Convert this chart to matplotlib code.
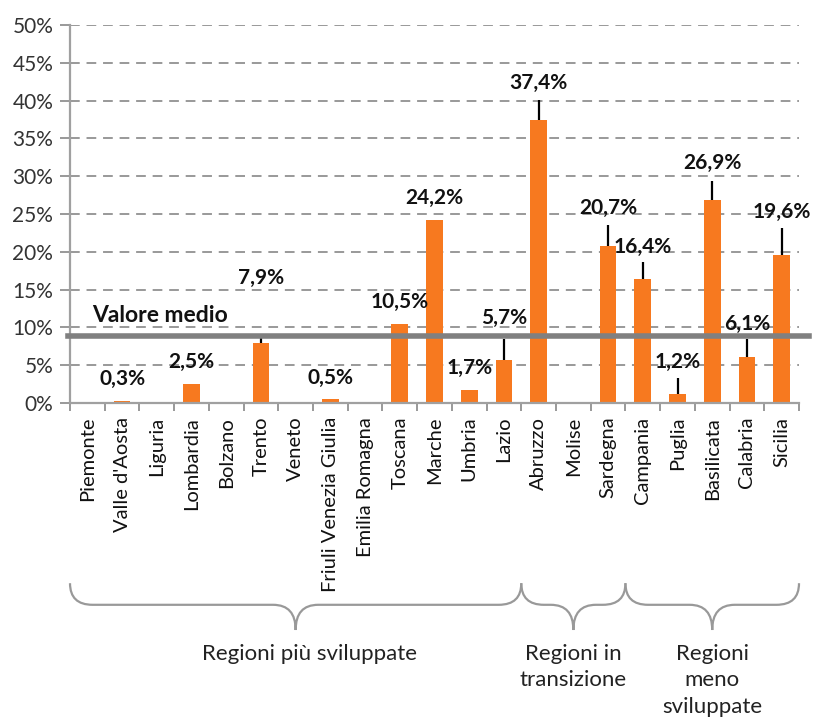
import matplotlib
matplotlib.use("Agg")
import matplotlib.pyplot as plt
import numpy as np
from matplotlib.path import Path
from matplotlib.patches import PathPatch
from matplotlib.transforms import blended_transform_factory

plt.rcParams['font.family'] = ['Lato', 'DejaVu Sans']

regioni = ['Piemonte', "Valle d'Aosta", 'Liguria', 'Lombardia', 'Bolzano', 'Trento',
           'Veneto', 'Friuli Venezia Giulia', 'Emilia Romagna', 'Toscana', 'Marche',
           'Umbria', 'Lazio', 'Abruzzo', 'Molise', 'Sardegna', 'Campania', 'Puglia',
           'Basilicata', 'Calabria', 'Sicilia']
valori = [0, 0.3, 0, 2.5, 0, 7.9, 0, 0.5, 0, 10.5, 24.2, 1.7, 5.7, 37.4, 0,
          20.7, 16.4, 1.2, 26.9, 6.1, 19.6]
errori = [0, 0, 0, 0, 0, 0.7, 0, 0, 0, 0, 0, 0, 2.8, 2.7, 0,
          2.8, 2.3, 2.1, 2.5, 2.3, 3.6]
# label heights as placed in the original chart
label_y = [None, 3.2, None, 5.4, None, 16.5, None, 3.3, None, 13.4, 27.1,
           4.6, 11.2, 42.3, None, 25.8, 20.6, 5.4, 31.7, 10.4, 25.3]
valore_medio = 8.9

gruppi = ['Regioni più sviluppate', 'Regioni in\ntransizione', 'Regioni\nmeno\nsviluppate']
gruppi_range = [(-0.5, 12.5), (12.5, 15.5), (15.5, 20.5)]

fig = plt.figure(figsize=(8.13, 7.2), dpi=100)
ax = fig.add_axes([0.0861, 0.4403, 0.8967, 0.525])

x = np.arange(len(regioni))
ax.bar(x, valori, width=0.48, color='#F7791F', zorder=2)
ax.errorbar(x, valori, yerr=[np.zeros(len(x)), errori], fmt='none',
            ecolor='black', elinewidth=1.6, capsize=0, zorder=3)

for i, v in enumerate(valori):
    if label_y[i] is not None:
        ax.text(i, label_y[i], ('%.1f%%' % v).replace('.', ','), ha='center',
                va='center', fontsize=15, fontweight='bold', color='#111111', zorder=5)

ax.axhline(valore_medio, xmin=-0.003, xmax=1.014, color='#808080', lw=4,
           clip_on=False, zorder=4)
ax.text(0.13, 11.6, 'Valore medio', fontsize=16.5, fontweight='bold',
        va='center', ha='left', color='#111111')

ax.set_xlim(-0.5, len(regioni) - 0.5)
ax.set_ylim(0, 50)
ax.set_yticks(np.arange(0, 51, 5))
ax.set_yticklabels(['%d%%' % t for t in range(0, 51, 5)], fontsize=15, color='#333333')
ax.yaxis.grid(True, linestyle=(0, (5, 3.5)), color='#999999', lw=1.4, zorder=0)
ax.set_axisbelow(True)

ax.set_xticks(x)
ax.set_xticklabels(regioni, rotation=90, fontsize=14.5, color='#111111')
ax.set_xticks(np.arange(-0.5, len(regioni)), minor=True)
ax.tick_params(axis='x', which='major', length=0, pad=10)
ax.tick_params(axis='x', which='minor', length=6, color='#999999', width=1.4)
ax.tick_params(axis='y', length=7, color='#999999', width=1.4, pad=5)

for s in ['top', 'right']:
    ax.spines[s].set_visible(False)
for s in ['left', 'bottom']:
    ax.spines[s].set_color('#a0a0a0')
    ax.spines[s].set_linewidth(1.6)

# braces under the category labels
trans = blended_transform_factory(ax.transData, fig.transFigure)
top, mid, bot = 0.190, 0.160, 0.125
r = 0.65
for (x0, x1), nome in zip(gruppi_range, gruppi):
    xc = (x0 + x1) / 2
    verts = [(x0, top), (x0, mid), (x0 + r, mid),
             (xc - r, mid), (xc, mid), (xc, bot),
             (xc, mid), (xc + r, mid),
             (x1 - r, mid), (x1, mid), (x1, top)]
    codes = [Path.MOVETO, Path.CURVE3, Path.CURVE3,
             Path.LINETO, Path.CURVE3, Path.CURVE3,
             Path.CURVE3, Path.CURVE3,
             Path.LINETO, Path.CURVE3, Path.CURVE3]
    patch = PathPatch(Path(verts, codes), facecolor='none', edgecolor='#999999',
                      lw=1.6, transform=trans, clip_on=False)
    fig.add_artist(patch)
    fig.text(0, 0.106, nome, transform=trans, ha='center', va='top',
             fontsize=16, color='#222222', linespacing=1.42)
    fig.texts[-1].set_x(xc + (0.4 if nome.startswith('Regioni più') else 0))

fig.savefig('out.png', dpi=100)
